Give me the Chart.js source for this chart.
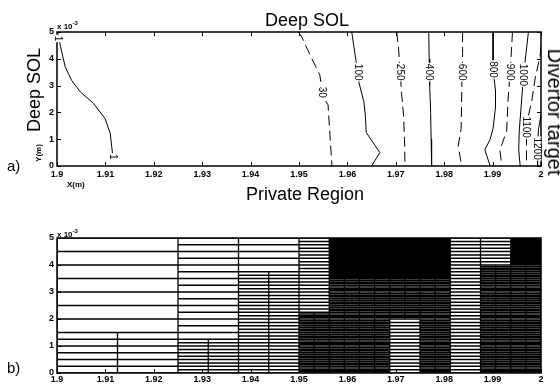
<!DOCTYPE html>
<html>
<head>
<meta charset="utf-8">
<script src="https://cdn.jsdelivr.net/npm/chart.js@4.4.0/dist/chart.umd.min.js"></script>
<style>
body { margin: 0; background: #fff; }
#wrap { position: relative; width: 560px; height: 386px; overflow: hidden; font-family: "Liberation Sans", Arial, sans-serif; }
.box { position: absolute; left: 0; }
.t { position: absolute; white-space: nowrap; color: #000; line-height: 1; }
.b { font-weight: bold; }
</style>
</head>
<body>
<div id="wrap">
  <div class="box" style="top:0"><canvas id="contourChart" width="560" height="200"></canvas></div>
  <div class="box" style="top:200px"><canvas id="meshChart" width="560" height="186"></canvas></div>

  <div class="t" style="font-size:18px;left:307px;top:10.6px;transform:translateX(-50%)">Deep SOL</div>
  <div class="t" style="font-size:18px;left:305px;top:184.6px;transform:translateX(-50%)">Private Region</div>
  <div class="t" style="font-size:18px;left:34px;top:90px;transform:translate(-50%,-50%) rotate(-90deg)">Deep SOL</div>
  <div class="t" style="font-size:20px;left:554.5px;top:112px;transform:translate(-50%,-50%) rotate(90deg)">Divertor target</div>
  <div class="t" style="font-size:15px;left:7px;top:158.3px">a)</div>
  <div class="t" style="font-size:15px;left:7px;top:360.3px">b)</div>
  <div class="t b" style="font-size:8px;left:38.5px;top:152.5px;transform:translate(-50%,-50%) rotate(-90deg)">Y(m)</div>
  <div class="t b" style="font-size:8px;left:67px;top:180.5px">X(m)</div>
  <div class="t b" style="font-size:8px;left:57px;top:20.2px">x 10<sup style="font-size:6px;vertical-align:4px">-3</sup></div>
  <div class="t b" style="font-size:8px;left:57px;top:228.2px">x 10<sup style="font-size:6px;vertical-align:4px">-3</sup></div>
</div>

<script>
// axis ticks (y in units of 1e-3 m)
const xTicks = [1.9, 1.91, 1.92, 1.93, 1.94, 1.95, 1.96, 1.97, 1.98, 1.99, 2];
const yTicks = [0, 1, 2, 3, 4, 5];

// contour levels, line style, and traced points [x, y]
const levels = ['1', '30', '100', '250', '400', '600', '800', '900', '1000', '1100', '1200'];
const dashed = [false, true, false, true, false, true, false, true, false, true, false];

const c1 = [[1.9002, 4.95], [1.9004, 4.75], [1.9008, 4.4], [1.9017, 3.7], [1.903, 3.2], [1.9048, 2.77], [1.9075, 2.34], [1.9099, 1.78], [1.911, 1.22], [1.9113, 0.72], [1.9116, 0.3]];
const c30 = [[1.9499, 5.0], [1.9506, 4.8], [1.9526, 4.02], [1.9543, 3.4], [1.9547, 2.9], [1.9556, 2.4], [1.956, 2.28], [1.9564, 1.16], [1.9568, 0]];
const c100 = [[1.9609, 5], [1.9613, 4.5], [1.9618, 3.9], [1.9624, 3.1], [1.9634, 2.4], [1.9637, 1.9], [1.9639, 1.25], [1.9667, 0.5], [1.965, 0]];
const c250 = [[1.9702, 5], [1.9706, 4.3], [1.9709, 3.5], [1.9712, 2.7], [1.9716, 1.9], [1.9718, 1.0], [1.9719, 0]];
const c400 = [[1.9768, 5], [1.9769, 4.0], [1.977, 3.0], [1.9772, 2.0], [1.9773, 1.0], [1.9774, 0]];
const c600 = [[1.9838, 5], [1.9838, 4.2], [1.9837, 3.5], [1.9836, 2.5], [1.9835, 1.4], [1.9829, 0.75], [1.9836, 0]];
const c800 = [[1.9901, 5], [1.9901, 4.3], [1.9901, 3.6], [1.9906, 2.8], [1.9906, 2.2], [1.9901, 1.4], [1.9895, 1.0], [1.9884, 0.6], [1.9895, 0]];
const c900 = [[1.9941, 5], [1.9939, 4.3], [1.9936, 3.5], [1.9932, 2.5], [1.9929, 1.3], [1.9915, 0.6], [1.9919, 0]];
const c1000 = [[1.9974, 5], [1.9969, 4.2], [1.9964, 3.4], [1.996, 2.46], [1.9955, 1.3], [1.9954, 0.6], [1.9957, 0]];
const c1100 = [[2.0, 4.45], [1.9998, 4.1], [1.9988, 3.28], [1.9981, 2.43], [1.9973, 1.8], [1.997, 1.45], [1.997, 0.67], [1.997, 0]];
const c1200 = [[2.0, 1.9], [1.9995, 1.4], [1.9992, 0.65], [1.9993, 0]];
const contourLines = [c1, c30, c100, c250, c400, c600, c800, c900, c1000, c1100, c1200];

// where each level's label sits on its line
const labelAt = [
  [[1.9003, 4.76], [1.9116, 0.34]],
  [[1.9549, 2.75]],
  [[1.9622, 3.5]],
  [[1.9709, 3.5]],
  [[1.9769, 3.5]],
  [[1.9837, 3.5]],
  [[1.9901, 3.6]],
  [[1.9936, 3.5]],
  [[1.9964, 3.4]],
  [[1.997, 1.45]],
  [[1.9992, 0.65]]
];

// mesh blocks: [x0, x1, y0, y1, row spacing]
const meshBlocks = [
  [1.9, 1.925, 1.5, 5, 0.5],
  [1.9, 1.9125, 0, 1.5, 0.25],
  [1.9125, 1.925, 0, 1.5, 0.25],
  [1.925, 1.9375, 1.25, 5, 0.25],
  [1.925, 1.93125, 0, 1.25, 0.125],
  [1.93125, 1.9375, 0, 1.25, 0.125],
  [1.9375, 1.95, 3.75, 5, 0.25],
  [1.9375, 1.94375, 0, 3.75, 0.125],
  [1.94375, 1.95, 0, 3.75, 0.125],
  [1.95, 1.95625, 2.25, 5, 0.125],
  [1.95, 1.953125, 0, 2.25, 0.0625],
  [1.953125, 1.95625, 0, 2.25, 0.0625],
  [1.95625, 1.959375, 3.5, 5, 0.03125],
  [1.959375, 1.9625, 3.5, 5, 0.03125],
  [1.95625, 1.959375, 0, 3.5, 0.0625],
  [1.959375, 1.9625, 0, 3.5, 0.0625],
  [1.9625, 1.965625, 3.5, 5, 0.03125],
  [1.965625, 1.96875, 3.5, 5, 0.03125],
  [1.9625, 1.965625, 0, 3.5, 0.0625],
  [1.965625, 1.96875, 0, 3.5, 0.0625],
  [1.96875, 1.971875, 3.5, 5, 0.03125],
  [1.971875, 1.975, 3.5, 5, 0.03125],
  [1.96875, 1.971875, 2, 3.5, 0.0625],
  [1.971875, 1.975, 2, 3.5, 0.0625],
  [1.96875, 1.975, 0, 2, 0.125],
  [1.975, 1.978125, 3.5, 5, 0.03125],
  [1.978125, 1.98125, 3.5, 5, 0.03125],
  [1.975, 1.978125, 0, 3.5, 0.0625],
  [1.978125, 1.98125, 0, 3.5, 0.0625],
  [1.98125, 1.9875, 0, 5, 0.125],
  [1.9875, 1.99375, 4, 5, 0.125],
  [1.9875, 1.990625, 0, 4, 0.0625],
  [1.990625, 1.99375, 0, 4, 0.0625],
  [1.99375, 1.996875, 4, 5, 0.03125],
  [1.996875, 2, 4, 5, 0.03125],
  [1.99375, 1.996875, 0, 4, 0.0625],
  [1.996875, 2, 0, 4, 0.0625]
];

const tickFont = { family: '"Liberation Sans", Arial, sans-serif', size: 9, weight: 'bold' };

const frameTicks = {
  id: 'frameTicks',
  afterDatasetsDraw(chart, args, opts) {
    const { ctx, chartArea: a, scales: { x, y } } = chart;
    ctx.save();
    ctx.strokeStyle = '#000';
    ctx.lineWidth = 1;
    ctx.beginPath();
    xTicks.forEach(v => {
      const px = Math.round(x.getPixelForValue(v)) + 0.5;
      ctx.moveTo(px, a.bottom); ctx.lineTo(px, a.bottom - 4);
      if (opts.mirror) { ctx.moveTo(px, a.top); ctx.lineTo(px, a.top + 4); }
    });
    yTicks.forEach(v => {
      const py = Math.round(y.getPixelForValue(v)) + 0.5;
      ctx.moveTo(a.left, py); ctx.lineTo(a.left + 4, py);
      if (opts.mirror) { ctx.moveTo(a.right, py); ctx.lineTo(a.right - 4, py); }
    });
    ctx.stroke();
    ctx.lineWidth = 1.5;
    ctx.strokeRect(a.left, a.top, a.width, a.height);
    ctx.restore();
  }
};

const contourLabels = {
  id: 'contourLabels',
  afterDatasetsDraw(chart) {
    const { ctx, scales: { x, y } } = chart;
    ctx.save();
    ctx.font = '10px "Liberation Sans", Arial, sans-serif';
    ctx.textAlign = 'center';
    ctx.textBaseline = 'middle';
    levels.forEach((lv, i) => {
      labelAt[i].forEach(([lx, ly]) => {
        ctx.save();
        ctx.translate(x.getPixelForValue(lx), y.getPixelForValue(ly));
        ctx.rotate(Math.PI / 2);
        const w = ctx.measureText(lv).width;
        ctx.fillStyle = '#fff';
        ctx.fillRect(-w / 2 - 1, -4, w + 2, 8);
        ctx.fillStyle = '#000';
        ctx.fillText(lv, 0, 0.5);
        ctx.restore();
      });
    });
    ctx.restore();
  }
};

const scalesFor = (xHeight, xPad) => ({
  x: {
    type: 'linear', min: 1.9, max: 2,
    grid: { display: false, drawTicks: false }, border: { display: false },
    afterBuildTicks: s => { s.ticks = xTicks.map(v => ({ value: v })); },
    afterFit: s => { s.height = xHeight; },
    ticks: { font: tickFont, color: '#000', padding: xPad, maxRotation: 0, autoSkip: false,
             callback: v => String(+v.toFixed(2)) }
  },
  y: {
    type: 'linear', min: 0, max: 5,
    grid: { display: false, drawTicks: false }, border: { display: false },
    afterBuildTicks: s => { s.ticks = yTicks.map(v => ({ value: v })); },
    afterFit: s => { s.width = 57; },
    ticks: { font: tickFont, color: '#000', padding: 3 }
  }
});

// a) contour plot
new Chart('contourChart', {
  type: 'line',
  data: {
    datasets: contourLines.map((pts, i) => ({
      label: levels[i],
      data: pts.map(([x, y]) => ({ x, y })),
      borderColor: '#000',
      borderWidth: 1,
      borderDash: dashed[i] ? [10, 5] : [],
      pointRadius: 0,
      tension: 0
    }))
  },
  options: {
    responsive: false,
    animation: false,
    layout: { padding: { left: 0, right: 19, top: 32, bottom: 0 } },
    plugins: { legend: { display: false }, tooltip: { enabled: false }, frameTicks: { mirror: true } },
    scales: scalesFor(34, 3)
  },
  plugins: [frameTicks, contourLabels]
});

// b) mesh
const rows = [];
const cols = [];
meshBlocks.forEach(([x0, x1, y0, y1, dy]) => {
  const n = Math.round((y1 - y0) / dy);
  for (let k = 0; k <= n; k++) {
    const yy = y0 + k * dy;
    rows.push({ x: x0, y: yy }, { x: x1, y: yy }, { x: x1, y: null });
  }
  cols.push({ x: x0, y: y0 }, { x: x0, y: y1 }, { x: x0, y: null });
  cols.push({ x: x1, y: y0 }, { x: x1, y: y1 }, { x: x1, y: null });
});

new Chart('meshChart', {
  type: 'line',
  data: {
    datasets: [
      { label: 'rows', data: rows, borderColor: '#000', borderWidth: 1.5, pointRadius: 0, spanGaps: false },
      { label: 'cols', data: cols, borderColor: '#000', borderWidth: 1.3, pointRadius: 0, spanGaps: false }
    ]
  },
  options: {
    responsive: false,
    animation: false,
    layout: { padding: { left: 0, right: 19, top: 38, bottom: 0 } },
    plugins: { legend: { display: false }, tooltip: { enabled: false }, frameTicks: { mirror: false } },
    scales: scalesFor(13, 1)
  },
  plugins: [frameTicks]
});
</script>
</body>
</html>
